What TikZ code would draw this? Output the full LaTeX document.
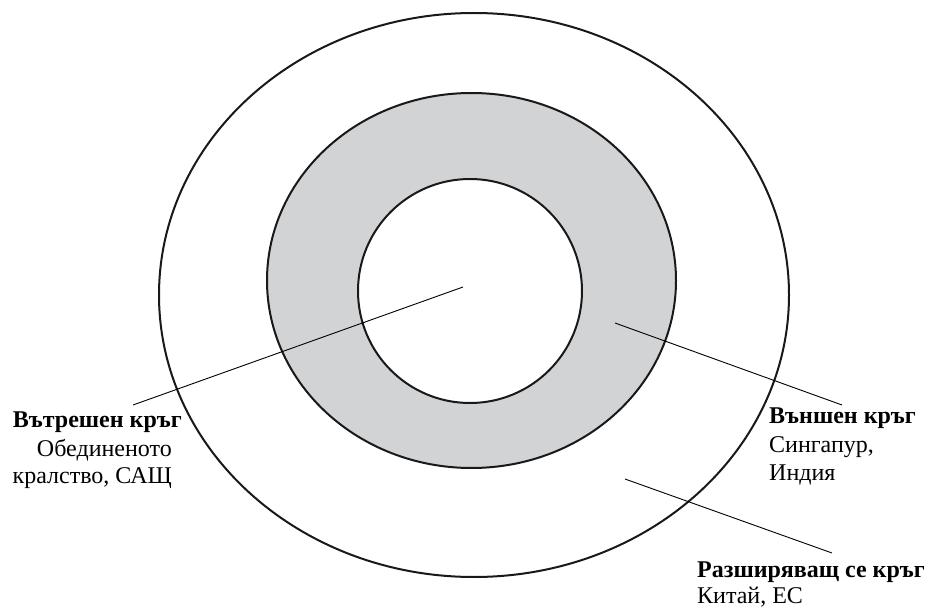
\documentclass[tikz,border=0pt]{standalone}
\usepackage{fontspec}
\setmainfont{Liberation Serif}
\definecolor{ringgray}{HTML}{D1D3D4}
\begin{document}
\begin{tikzpicture}[x=1pt,y=-1pt,
  ring/.style={draw=black!90, line width=2pt},
  leader/.style={draw=black, line width=0.9pt},
  lbl/.style={inner sep=0pt, font=\fontsize{24}{28}\selectfont},
  lblb/.style={inner sep=0pt, font=\fontsize{24}{28}\selectfont\bfseries}]
\useasboundingbox (0,0) rectangle (930,607);
\fill[white] (0,0) rectangle (930,607);
% circles
\draw[ring] (474,295) ellipse [x radius=315, y radius=282];
\draw[ring, fill=ringgray] (471.5,280.5) ellipse [x radius=204.5, y radius=187.5];
\draw[ring, fill=white] (470,291) ellipse [x radius=112, y radius=112];
% leader end points
\coordinate (pIn) at (463,287);
\coordinate (eIn) at (133,405);
\coordinate (pOut) at (615,323);
\coordinate (eOut) at (842,405);
\coordinate (pExp) at (625,479);
\coordinate (eExp) at (832,553);
\draw[leader] (pIn) -- (eIn);
\draw[leader] (pOut) -- (eOut);
\draw[leader] (pExp) -- (eExp);
% labels
\node[lblb, anchor=base east] (in1) at (182,427) {Вътрешен кръг};
\node[lbl, anchor=base east] (in2) at (172,456) {Обединеното};
\node[lbl, anchor=base east] (in3) at (172,483) {кралство, САЩ};
\node[lblb, anchor=base west] (out1) at (769,423) {Външен кръг};
\node[lbl, anchor=base west] (out2) at (769,452) {Сингапур,};
\node[lbl, anchor=base west] (out3) at (769,480) {Индия};
\node[lblb, anchor=base west] (exp1) at (697,577) {Разширяващ се кръг};
\node[lbl, anchor=base west] (exp2) at (697,603) {Китай, ЕС};
\end{tikzpicture}
\end{document}
